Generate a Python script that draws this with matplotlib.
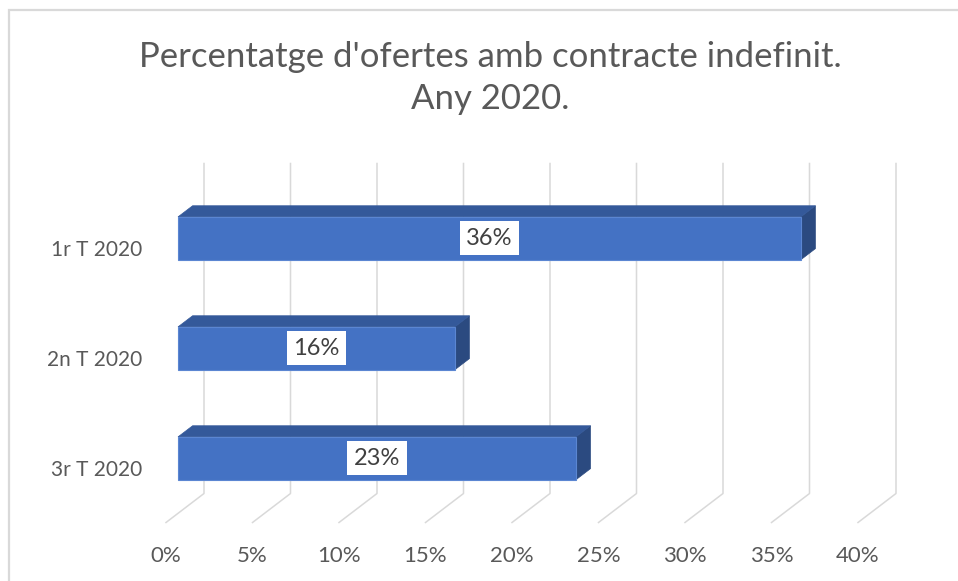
import matplotlib
matplotlib.use("Agg")
import matplotlib.pyplot as plt
from matplotlib.patches import Polygon, Rectangle
from matplotlib.lines import Line2D

plt.rcParams['font.family'] = ['Lato', 'DejaVu Sans']

# ---- data ----
categories = ["1r T 2020", "2n T 2020", "3r T 2020"]
values = [36, 16, 23]
x_ticks = [0, 5, 10, 15, 20, 25, 30, 35, 40]
x_tick_labels = [f"{t}%" for t in x_ticks]
title_lines = ["Percentatge d'ofertes amb contracte indefinit.", "Any 2020."]

# ---- style ----
W, H = 958, 581
PX_PER_UNIT = 17.3      # pixels per percent
PX_PER_CAT = 110.0      # pixels per category
DEPTH_PX_X, DEPTH_PX_Y = 38.0, 29.0
DX = DEPTH_PX_X / PX_PER_UNIT
DY = DEPTH_PX_Y / PX_PER_CAT
D0, D1 = 0.316, 0.70
HALF = 0.195

FRONT = '#4472C4'
TOP = '#34599A'
SIDE = '#2B4A80'
GRID = '#D9D9D9'
TXT = '#595959'

fig = plt.figure(figsize=(W / 100, H / 100), dpi=100)
fig.patch.set_facecolor('white')

# frame
fig.add_artist(Rectangle((8.5 / W, -0.1), 1.2, (H - 9.5) / H + 0.1,
                         transform=fig.transFigure, fill=False,
                         edgecolor=GRID, linewidth=1.6))

left_px, floor_px = 166.0, 522.5
ax = fig.add_axes([left_px / W, (H - floor_px) / H,
                   40 * PX_PER_UNIT / W, 3 * PX_PER_CAT / H])
ax.set_xlim(0, 40)
ax.set_ylim(2.5, -0.5)
ax.patch.set_alpha(0)
for s in ax.spines.values():
    s.set_visible(False)


def P(x, y, d):
    return (x + d * DX, y - d * DY)


# gridlines (back wall + floor)
for t in x_ticks:
    a = P(t, -0.5, 1)
    b = P(t, 2.5, 1)
    c = P(t, 2.5, 0)
    ax.add_line(Line2D([a[0], b[0], c[0]], [a[1], b[1], c[1]],
                       color=GRID, lw=1.1, clip_on=False, zorder=1))

# bars
for i, v in enumerate(values):
    y0, y1 = i - HALF, i + HALF
    front = [P(0, y0, D0), P(v, y0, D0), P(v, y1, D0), P(0, y1, D0)]
    top = [P(0, y0, D0), P(v, y0, D0), P(v, y0, D1), P(0, y0, D1)]
    side = [P(v, y0, D0), P(v, y1, D0), P(v, y1, D1), P(v, y0, D1)]
    ax.add_patch(Polygon(side, closed=True, facecolor=SIDE, edgecolor=SIDE,
                         lw=0.5, clip_on=False, zorder=3))
    ax.add_patch(Polygon(top, closed=True, facecolor=TOP, edgecolor=TOP,
                         lw=0.5, clip_on=False, zorder=3))
    ax.add_patch(Polygon(front, closed=True, facecolor=FRONT, edgecolor='#5B86D2',
                         lw=0.8, clip_on=False, zorder=4))
    cx, cy = P(v / 2, i, D0)
    ax.text(cx, cy, f"{v}%", ha='center', va='center', fontsize=17,
            color='#404040', zorder=6,
            bbox=dict(boxstyle='square,pad=0.28', facecolor='white', edgecolor='none'))

ax.set_xticks(x_ticks)
ax.set_xticklabels(x_tick_labels, fontsize=16, color=TXT)
ax.set_yticks(range(len(categories)))
ax.set_yticklabels(categories, fontsize=15, color=TXT)
ax.tick_params(axis='x', length=0, pad=17)
ax.tick_params(axis='y', length=0, pad=17)

# title
fig.text(490 / W, (H - 67) / H, title_lines[0], ha='center', va='baseline',
         fontsize=25, color=TXT)
fig.text(490 / W, (H - 109) / H, title_lines[1], ha='center', va='baseline',
         fontsize=25, color=TXT)

fig.savefig('out.png', dpi=100, facecolor='white')
